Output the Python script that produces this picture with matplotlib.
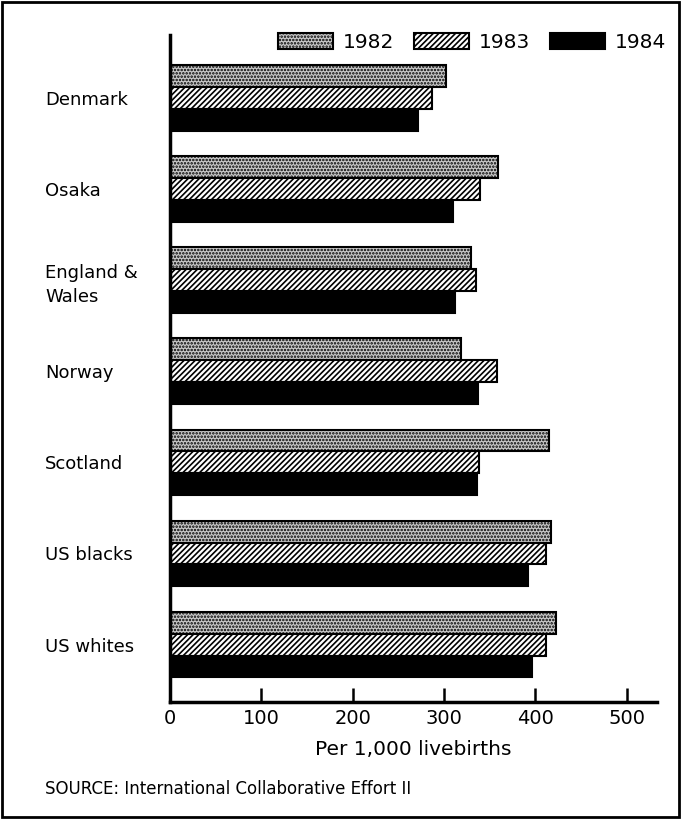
import matplotlib
matplotlib.use("Agg")
import matplotlib.pyplot as plt
import numpy as np
from matplotlib.patches import Rectangle

plt.rcParams['font.family'] = ['DejaVu Sans']
plt.rcParams['hatch.linewidth'] = 1.2

categories = ["Denmark", "Osaka", "England &\nWales", "Norway", "Scotland", "US blacks", "US whites"]
years = ["1982", "1983", "1984"]
v1982 = [302, 359, 329, 318, 415, 417, 423]
v1983 = [287, 339, 335, 358, 338, 411, 412]
v1984 = [271, 310, 312, 337, 336, 392, 396]
xticks = [0, 100, 200, 300, 400, 500]

fig = plt.figure(figsize=(6.81, 8.19), dpi=100)
ax = fig.add_axes([170/681, 1-702/819, (657-170)/681, (702-35)/819])

y = np.arange(len(categories))
h = 0.24
styles = [
    dict(facecolor='#c8c8c8', hatch='.....', edgecolor='black'),
    dict(facecolor='white', hatch='//////', edgecolor='black'),
    dict(facecolor='black', hatch=None, edgecolor='black'),
]
series = [v1982, v1983, v1984]
for i, (vals, st, lab) in enumerate(zip(series, styles, years)):
    ax.barh(y + (i - 1) * h, vals, height=h, linewidth=1.5, label=lab, **st)

ax.set_ylim(len(categories) - 1 + 0.63, -0.69)
ax.set_xlim(0, 533)
ax.set_yticks(y)
ax.set_yticklabels(categories, fontsize=13, ha='left', linespacing=1.45)
ax.tick_params(axis='y', length=0, pad=90)
ax.set_xticks(xticks)
ax.set_xticklabels([str(t) for t in xticks], fontsize=14)
ax.tick_params(axis='x', direction='in', length=10, width=1.8, pad=5)
for s in ['top', 'right']:
    ax.spines[s].set_visible(False)
for s in ['left', 'bottom']:
    ax.spines[s].set_linewidth(2.5)
ax.set_xlabel("Per 1,000 livebirths", fontsize=14.5, labelpad=9)

leg = ax.legend(ncol=3, loc='upper right', bbox_to_anchor=(666/681, 1-33/819),
                bbox_transform=fig.transFigure, frameon=False, borderaxespad=0, borderpad=0,
                fontsize=14.5, handlelength=2.7, handleheight=0.8, columnspacing=1.0,
                handletextpad=0.5)

fig.text(45/681, 1-789/819, "SOURCE: International Collaborative Effort II", fontsize=12,
         va='center', ha='left')

fig.patches.append(Rectangle((0.003, 0.003), 0.994, 0.994, transform=fig.transFigure,
                             fill=False, edgecolor='black', linewidth=2))

fig.savefig("out.png", dpi=100)
